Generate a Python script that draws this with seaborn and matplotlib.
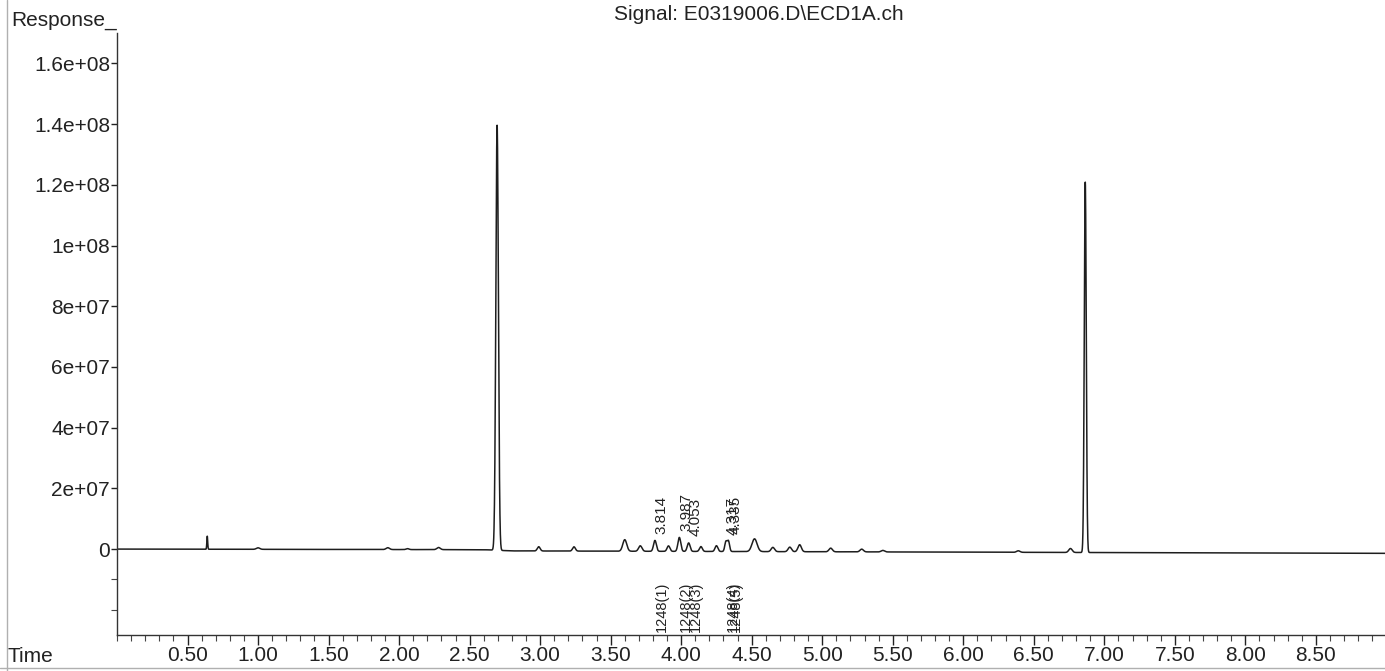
import numpy as np
import pandas as pd
import matplotlib
matplotlib.use("Agg")
import matplotlib.pyplot as plt
from matplotlib.ticker import FixedLocator, MultipleLocator
import seaborn as sns

# Peak table of the ECD trace: retention time (min), height (counts), width (sigma, min)
peak_times = [0.64, 1.00, 1.92, 2.06, 2.28, 2.695, 2.99, 3.24, 3.60, 3.71, 3.814,
              3.91, 3.987, 4.053, 4.14, 4.25, 4.317, 4.335, 4.52, 4.65, 4.77, 4.84,
              5.06, 5.28, 5.43, 6.39, 6.76, 6.865]
peak_heights = [4.3e6, 0.5e6, 0.6e6, 0.3e6, 0.7e6, 1.40e8, 1.4e6, 1.4e6, 3.8e6, 1.8e6, 3.6e6,
                1.8e6, 4.6e6, 2.8e6, 1.6e6, 1.9e6, 3.2e6, 3.4e6, 4.2e6, 1.4e6, 1.5e6, 2.3e6,
                1.2e6, 0.9e6, 0.5e6, 0.5e6, 1.3e6, 1.22e8]
peak_widths = [0.003, 0.012, 0.012, 0.010, 0.012, 0.009, 0.010, 0.010, 0.014, 0.012, 0.010,
               0.010, 0.010, 0.010, 0.010, 0.010, 0.008, 0.008, 0.018, 0.012, 0.012, 0.012,
               0.012, 0.012, 0.012, 0.012, 0.012, 0.007]

# Baseline drift knots
baseline_t = [0.0, 2.60, 2.80, 9.0]
baseline_v = [0.0, -0.2e6, -0.6e6, -1.4e6]

# Integrated peaks and compound labels
label_times = [3.814, 3.987, 4.053, 4.317, 4.335]
label_texts = ["3.814", "3.987", "4.053", "4.317", "4.335"]
label_heights = [3.6e6, 4.6e6, 2.8e6, 3.2e6, 3.4e6]
compound_texts = ["1248(1)", "1248(2)", "1248(3)", "1248(4)", "1248(5)"]

x_ticks = [0.50, 1.00, 1.50, 2.00, 2.50, 3.00, 3.50, 4.00, 4.50, 5.00, 5.50,
           6.00, 6.50, 7.00, 7.50, 8.00, 8.50]
y_ticks = [0, 2e7, 4e7, 6e7, 8e7, 1e8, 1.2e8, 1.4e8, 1.6e8]

title_text = "Signal: E0319006.D\\ECD1A.ch"

# Build the trace from the peak table
t = np.linspace(0.0, 9.0, 9001)
signal = np.interp(t, baseline_t, baseline_v)
for rt, h, w in zip(peak_times, peak_heights, peak_widths):
    signal = signal + h * np.exp(-0.5 * ((t - rt) / w) ** 2)
df = pd.DataFrame({"Time": t, "Response": signal})

sns.set_theme(style="ticks")
plt.rcParams["font.family"] = ["Liberation Sans", "DejaVu Sans"]
plt.rcParams["font.size"] = 15

W, H = 1385, 671
fig = plt.figure(figsize=(W / 100, H / 100), dpi=100)
ax = fig.add_axes([117 / W, 1 - 635 / H, (W - 117) / W, (635 - 33) / H])

sns.lineplot(data=df, x="Time", y="Response", ax=ax, color="#1e1e1e", linewidth=1.1,
             estimator=None, sort=False)

ax.set_xlim(0.0, 8.99)
ax.set_ylim(-2.83e7, 1.70e8)

ax.xaxis.set_major_locator(FixedLocator(x_ticks))
ax.set_xticklabels([f"{v:.2f}" for v in x_ticks])
ax.xaxis.set_minor_locator(MultipleLocator(0.1))
ax.yaxis.set_major_locator(FixedLocator(y_ticks))
ax.set_yticklabels([f"{v:g}" for v in y_ticks])
ax.yaxis.set_minor_locator(FixedLocator([-1e7, -2e7]))

ax.tick_params(axis="x", which="major", length=7, width=1, pad=1, labelsize=15,
               colors="#222222")
ax.tick_params(axis="x", which="minor", length=4, width=0.8, color="#444444")
ax.tick_params(axis="y", which="major", length=4, width=1, pad=1, labelsize=15,
               colors="#222222")
ax.tick_params(axis="y", which="minor", length=4, width=0.8, color="#444444")

for side in ["top", "right"]:
    ax.spines[side].set_visible(False)
for side in ["left", "bottom"]:
    ax.spines[side].set_color("#333333")
    ax.spines[side].set_linewidth(1.0)

ax.set_xlabel("")
ax.set_ylabel("")

# Retention time labels above the integrated peaks
for rt, txt, h in zip(label_times, label_texts, label_heights):
    ax.text(rt, h + 1.5e6, txt, rotation=90, ha="left", va="bottom", fontsize=11,
            color="#222222")

# Compound names along the bottom strip
for rt, txt in zip(label_times, compound_texts):
    ax.text(rt, -2.73e7, txt, rotation=90, ha="left", va="bottom", fontsize=10.5,
            color="#222222")

fig.text(759 / W, 1 - 14 / H, title_text, ha="center", va="center", fontsize=15,
         color="#222222")
fig.text(117 / W, 1 - 20 / H, "Response_", ha="right", va="center", fontsize=15,
         color="#222222")
fig.text(8 / W, 1 - 657 / H, "Time", ha="left", va="center", fontsize=15,
         color="#222222")

# Page border
fig.add_artist(plt.Line2D([7 / W, 7 / W], [0, 1], color="#b0b0b0", linewidth=1.0))
fig.add_artist(plt.Line2D([0, 1], [3 / H, 3 / H], color="#b0b0b0", linewidth=1.0))

fig.savefig("out.png", dpi=100)
